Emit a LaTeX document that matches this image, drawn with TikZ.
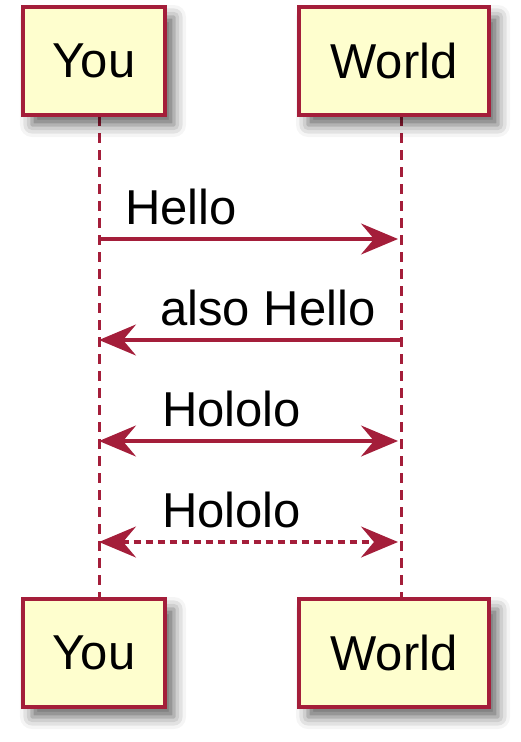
\documentclass[tikz,border=0pt]{standalone}
\usepackage{fontspec}
\setmainfont{Liberation Sans}
\usetikzlibrary{arrows.meta,shadows.blur}
\definecolor{puBorder}{HTML}{A41E3A}
\definecolor{puFill}{HTML}{FEFECE}
\tikzset{
  participant/.style={draw=puBorder, fill=puFill, line width=4pt, rectangle,
    minimum height=108pt, inner sep=0pt, font=\fontsize{49}{55}\selectfont,
    blur shadow={shadow xshift=9pt, shadow yshift=-10pt, shadow blur radius=12pt, shadow opacity=60}},
  lifeline/.style={draw=puBorder, line width=3pt, dash pattern=on 10pt off 7pt},
  msg/.style={draw=puBorder, line width=3.2pt},
  tip/.tip={Stealth[length=37pt, width=31pt, inset=13pt]},
  dotmsg/.style={msg, dash pattern=on 7pt off 5pt},
  msglabel/.style={anchor=base west, inner sep=0pt, font=\fontsize{49}{55}\selectfont}
}
\begin{document}
\begin{tikzpicture}[x=1pt,y=-1pt]
\useasboundingbox (0,0) rectangle (520,742);
% lifeline coordinates
\coordinate (youL) at (99,116);
\coordinate (worldL) at (401,116);
\coordinate (youE) at (99,600);
\coordinate (worldE) at (401,600);
\draw[lifeline] (youL) -- (youE);
\draw[lifeline] (worldL) -- (worldE);
% participants
\node[participant, minimum width=142pt] (youTop) at (94,61) {You};
\node[participant, minimum width=190pt] (worldTop) at (394,61) {World};
\node[participant, minimum width=142pt] (youBot) at (94,653) {You};
\node[participant, minimum width=190pt] (worldBot) at (394,653) {World};
% message endpoints
\coordinate (y1) at (99,239);  \coordinate (w1) at (401,239);
\coordinate (y2) at (99,340);  \coordinate (w2) at (401,340);
\coordinate (y3) at (99,441);  \coordinate (w3) at (401,441);
\coordinate (y4) at (99,542);  \coordinate (w4) at (401,542);
% messages
\draw[msg, -{tip}, shorten >=3pt] (y1) -- (w1);
\node[msglabel] (l1) at (125,224) {Hello};
\draw[msg, -{tip}] (w2) -- (y2);
\node[msglabel] (l2) at (160,325) {also Hello};
\draw[msg, {tip}-{tip}, shorten >=3pt] (y3) -- (w3);
\node[msglabel] (l3) at (162,426) {Hololo};
\draw[dotmsg, {tip}-{tip}, shorten >=3pt] (y4) -- (w4);
\node[msglabel] (l4) at (162,527) {Hololo};
\end{tikzpicture}
\end{document}
